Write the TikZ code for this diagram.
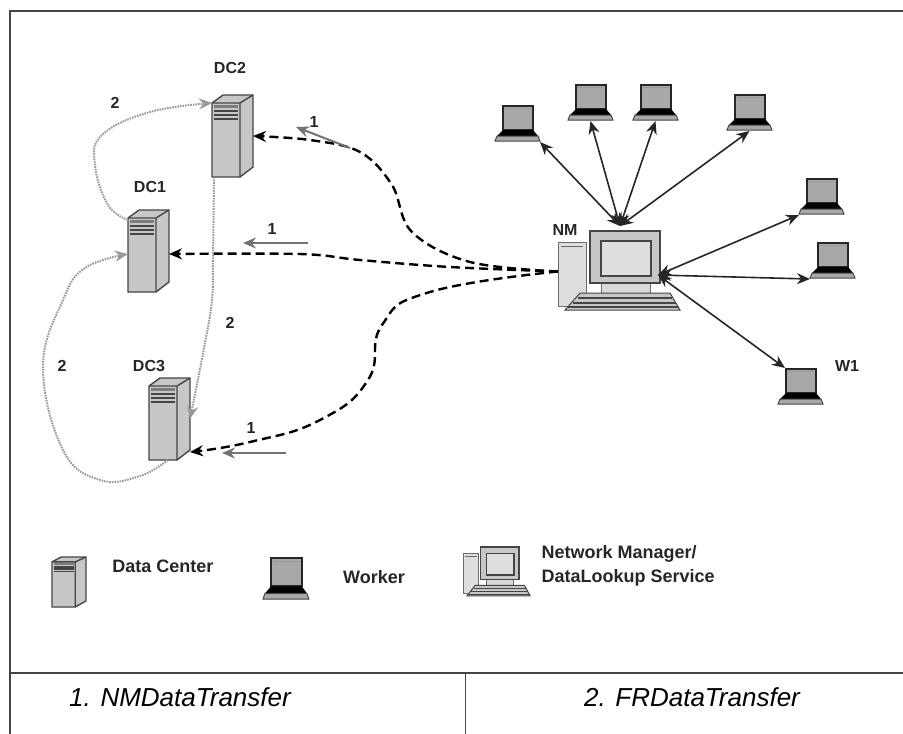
\documentclass[tikz,border=0pt]{standalone}
\usepackage{fontspec}
\setmainfont{Liberation Sans}
\usepackage{tikz}
\usetikzlibrary{arrows.meta}
\usetikzlibrary{positioning}

\definecolor{iconedge}{gray}{.27}
\definecolor{iconfill}{gray}{.78}
\definecolor{iconlight}{gray}{.87}
\definecolor{screengray}{gray}{.66}
\definecolor{linkgray}{gray}{.6}
\definecolor{notegray}{gray}{.45}

\tikzset{
	hotspot/.style={inner sep=0pt,outer sep=0pt,anchor=north west},
	server/.pic={
		\filldraw[fill=iconfill,draw=iconedge,line width=1.4pt] (0,8) -- (11,0) -- (41,0) -- (41,72) -- (28,82) -- (0,82) -- cycle;
		\draw[iconedge,line width=1.4pt] (0,8) -- (28,8) -- (41,0) (28,8) -- (28,82);
		\fill[iconedge!70] (2,10) rectangle (26,13);
		\draw[iconedge,line width=1.6pt] (2,16) -- (26,16) (2,20) -- (26,20) (2,24) -- (26,24);
	},
	laptop/.pic={
		\filldraw[fill=screengray,draw=black!85,line width=1.8pt] (8,1) rectangle (38,25);
		\draw[black!40,line width=.8pt] (10,3.5) -- (36,3.5);
		\fill[black] (8,25) -- (38,25) -- (43,31) -- (2,31) -- cycle;
		\filldraw[fill=screengray,draw=iconedge,line width=1pt] (2,31) -- (43,31) -- (45,36) -- (0,36) -- cycle;
	},
	computer/.pic={
		\filldraw[fill=iconlight,draw=iconedge!80,line width=1pt] (0,11) rectangle (28,75);
		\draw[iconedge!80,line width=1pt] (3,15) -- (25,15);
		\filldraw[fill=iconfill!70,draw=iconedge!80,line width=1pt] (43,52) rectangle (92,62);
		\filldraw[fill=iconfill,draw=iconedge,line width=1.4pt] (32,0) rectangle (102,52);
		\filldraw[fill=iconlight,draw=iconedge,line width=1.4pt] (43,10) rectangle (93,45);
		\filldraw[fill=iconfill,draw=iconedge,line width=1pt] (22,62) -- (112,62) -- (122,79) -- (7,79) -- cycle;
		\draw[iconedge,line width=1.2pt] (20,67) -- (114,67) (15,72) -- (118,72) (10,76) -- (120,76);
	}
}

\begin{document}
\begin{tikzpicture}[x=1pt,y=-1pt,>={Stealth[length=13pt,width=11pt]}]
	\useasboundingbox (0,0) rectangle (903,734);

	%frame
	\draw[iconedge,line width=1.6pt] (903,11) -- (10,11) -- (10,734);
	\draw[iconedge,line width=1.4pt] (10,673) -- (903,673);
	\draw[iconedge,line width=1pt] (465,673) -- (465,734);
	\node[font=\itshape\fontsize{26}{26}\selectfont] (nmtransfer) at (180,697) {1. NMDataTransfer};
	\node[font=\itshape\fontsize{26}{26}\selectfont] (frtransfer) at (692,697) {2. FRDataTransfer};

	%data centers
	\foreach \i/\x/\y in {1/128/210,2/212/95,3/149/378} {
		\node[hotspot,minimum width=41pt,minimum height=82pt] (dc\i) at (\x,\y) {};
		\pic at (dc\i.north west) {server};
	}

	%workers
	\foreach \i/\x/\y in {1/495/105,2/568/84,3/633/84,4/727/94,5/799/178,6/810/242,7/778/368} {
		\node[hotspot,minimum width=45pt,minimum height=37pt] (worker\i) at (\x,\y) {};
		\pic at (worker\i.north west) {laptop};
	}

	%network manager
	\node[hotspot,minimum width=122pt,minimum height=81pt] (nm) at (558,231) {};
	\pic at (nm.north west) {computer};
	\coordinate (nm_top) at (620,226);
	\coordinate (nm_right) at (658,275);

	% Connect manager and workers
	\foreach \i/\a in {1/south east,2/south,3/south,4/south} {
		\draw[<->,black!85,line width=1.6pt] (nm_top) -- (worker\i.\a);
	}
	\foreach \i in {5,6} {
		\draw[<->,black!85,line width=1.6pt] (nm_right) -- (worker\i.south west);
	}
	\draw[<->,black!85,line width=1.6pt] (nm_right) -- ([xshift=7pt]worker7.north west);

	%transfers from the manager
	\begin{scope}[line width=2.4pt,dash pattern=on 9pt off 5pt]
		\draw[->] plot[smooth,tension=.6] coordinates {(nm.west) (470,262) (412,232) (392,185) (360,152) (310,140) (dc2.east)};
		\draw[->] plot[smooth,tension=.6] coordinates {(nm.west) (450,267) (360,260) (300,254) ([yshift=-3pt]dc1.east)};
		\draw[->] plot[smooth,tension=.8] coordinates {(nm.west) (430,292) (382,325) (368,380) (320,420) (250,442) ([yshift=8pt]dc3.south east)};
	\end{scope}

	%transfers between data centers
	\begin{scope}[linkgray,line width=2pt,dash pattern=on 1.6pt off 1pt]
		\draw[->] plot[smooth,tension=.7] coordinates {([yshift=-10pt]dc1.north west) (108,205) (95,165) (102,135) (150,112) ([yshift=-8pt]dc2.north west)};
		\draw[->] plot[smooth,tension=.7] coordinates {([xshift=2pt]dc2.south west) (213,260) (212,300) (205,343) (dc3.east)};
		\draw[->] plot[smooth,tension=.7] coordinates {([xshift=19pt]dc3.south west) (140,476) (100,480) (63,450) (43,367) (63,300) (85,268) ([yshift=-3pt]dc1.west)};
	\end{scope}

	%direction notes
	\coordinate (note1a) at (350,148);
	\coordinate (note1b) at (296,127);
	\coordinate (note2a) at (308,243);
	\coordinate (note2b) at (243,243);
	\coordinate (note3a) at (286,453);
	\coordinate (note3b) at (222,453);
	\foreach \i in {1,2,3} {
		\draw[->,notegray,line width=2pt] (note\i a) -- (note\i b);
	}

	%descriptions
	\foreach \t/\x/\y/\name in {DC2/230/68/labeldc2,DC1/150/187/labeldc1,DC3/149/366/labeldc3,NM/565/230/labelnm,W1/847/366/labelw1,2/115/103/labela,2/230/323/labelb,2/62/366/labelc,1/314/122/labeld,1/272/229/labele,1/251/428/labelf} {
		\node[font=\bfseries\fontsize{16}{16}\selectfont,text=black!85] (\name) at (\x,\y) {\t};
	}

	%legend
	\node[hotspot,minimum width=34pt,minimum height=50pt] (legend_dc) at (52,557) {};
	\pic[xscale=.83,yscale=.61] at (legend_dc.north west) {server};
	\node[hotspot,minimum width=46pt,minimum height=43pt] (legend_worker) at (263,557) {};
	\pic[xscale=1.02,yscale=1.17] at (legend_worker.north west) {laptop};
	\node[hotspot,minimum width=67pt,minimum height=50pt] (legend_nm) at (463,547) {};
	\pic[xscale=.55,yscale=.62] at (legend_nm.north west) {computer};
	\node[font=\bfseries\fontsize{18}{18}\selectfont,text=black!85] (text_dc) at (163,566) {Data Center};
	\node[font=\bfseries\fontsize{18}{18}\selectfont,text=black!85] (text_worker) at (374,577) {Worker};
	\node[font=\bfseries\fontsize{18}{24}\selectfont,text=black!85,align=left,anchor=west] (text_nm) at (538,566) {Network Manager/\\DataLookup Service};
\end{tikzpicture}
\end{document}
